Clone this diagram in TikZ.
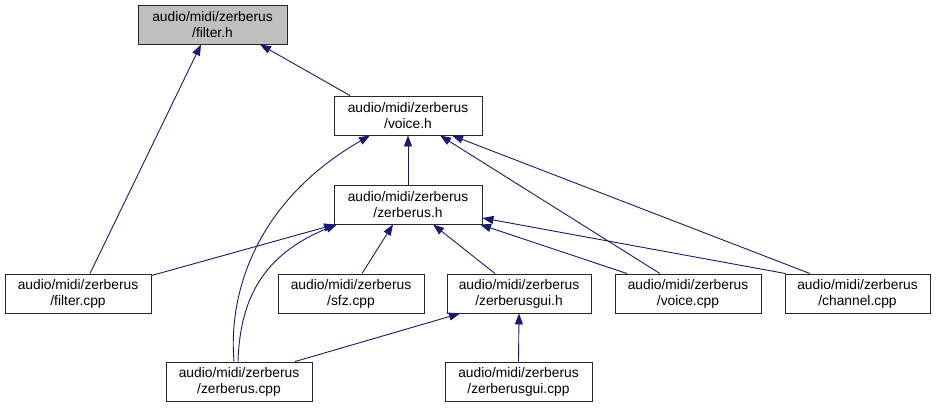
\documentclass[tikz,border=0pt]{standalone}
\usepackage{fontspec}
\setmainfont{Liberation Sans}
\usetikzlibrary{arrows.meta}
\definecolor{edgeblue}{HTML}{191970}
\definecolor{boxgray}{HTML}{BFBFBF}
\tikzset{
  filebox/.style={draw=black!85, line width=0.9pt, fill=white, align=center,
    minimum height=39pt, inner sep=0pt,
    font=\fontsize{13.8}{16}\selectfont},
  dep/.style={draw=edgeblue, line width=0.9pt,
    -{Triangle[length=11pt,width=8pt]}},
}
\begin{document}
\begin{tikzpicture}[x=1pt,y=-1pt]
\useasboundingbox (0,0) rectangle (936,409);
% nodes
\node[filebox, fill=boxgray, minimum width=149pt] (filterh) at (212.5,24.5) {audio/midi/zerberus\\/filter.h};
\node[filebox, minimum width=148pt] (voiceh) at (408,115.5) {audio/midi/zerberus\\/voice.h};
\node[filebox, minimum width=148pt] (zerberush) at (408,204.5) {audio/midi/zerberus\\/zerberus.h};
\node[filebox, minimum width=146pt] (filtercpp) at (78,293.5) {audio/midi/zerberus\\/filter.cpp};
\node[filebox, minimum width=146pt] (sfzcpp) at (351,293.5) {audio/midi/zerberus\\/sfz.cpp};
\node[filebox, minimum width=144pt] (zerberusguih) at (519,293.5) {audio/midi/zerberus\\/zerberusgui.h};
\node[filebox, minimum width=146pt] (voicecpp) at (688,293.5) {audio/midi/zerberus\\/voice.cpp};
\node[filebox, minimum width=145pt] (channelcpp) at (857.5,293.5) {audio/midi/zerberus\\/channel.cpp};
\node[filebox, minimum width=146pt] (zerberuscpp) at (239,381.5) {audio/midi/zerberus\\/zerberus.cpp};
\node[filebox, minimum width=147pt] (zerberusguicpp) at (518.5,381.5) {audio/midi/zerberus\\/zerberusgui.cpp};
% edges
\draw[dep] ([xshift=12pt]filtercpp.north) -- ([xshift=-11.5pt]filterh.south);
\draw[dep] ([xshift=-58pt]voiceh.north) -- ([xshift=47.5pt]filterh.south);
\draw[dep] (zerberush.north) -- (voiceh.south);
\draw[dep] ([xshift=-5pt]zerberuscpp.north) .. controls (228,290) and (258,200) .. ([xshift=-38pt]voiceh.south);
\draw[dep] ([xshift=-28pt]voicecpp.north) -- ([xshift=32pt]voiceh.south);
\draw[dep] ([xshift=-47.5pt]channelcpp.north) -- ([xshift=44pt]voiceh.south);
\draw[dep] ([yshift=-2pt]filtercpp.north east) -- ([xshift=-73pt]zerberush.south);
\draw[dep] ([xshift=-1pt]zerberuscpp.north) .. controls (240,300) and (262,255) .. ([xshift=-71pt]zerberush.south);
\draw[dep] ([xshift=11pt]sfzcpp.north) -- ([xshift=-15pt]zerberush.south);
\draw[dep] ([xshift=-24pt]zerberusguih.north) -- ([xshift=25pt]zerberush.south);
\draw[dep] ([xshift=-61pt]voicecpp.north) -- ([xshift=72pt]zerberush.south);
\draw[dep] ([xshift=1pt]channelcpp.north west) -- ([yshift=-13.5pt]zerberush.east);
\draw[dep] ([xshift=56pt]zerberuscpp.north) -- ([xshift=-59pt]zerberusguih.south);
\draw[dep] (zerberusguicpp.north) -- (zerberusguih.south);
\end{tikzpicture}
\end{document}
